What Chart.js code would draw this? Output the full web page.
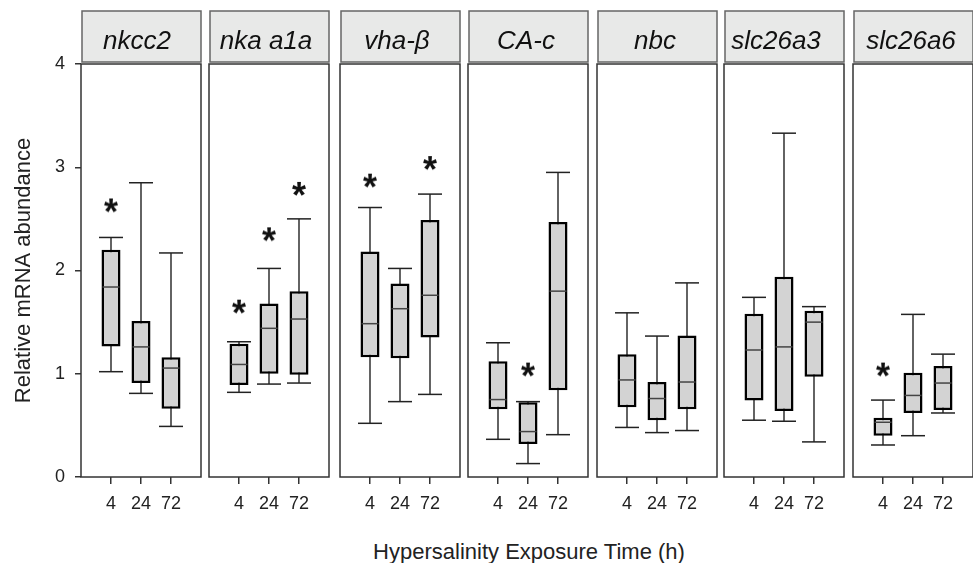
<!DOCTYPE html>
<html lang="en">
<head>
  <meta charset="UTF-8" />
  <title>Relative mRNA abundance after hypersalinity exposure</title>
  <script src="https://cdn.jsdelivr.net/npm/chart.js"></script>
  <style>
    body {
      margin: 0;
      background: #fff;
      font-family: 'Liberation Sans', Arial, sans-serif;
    }
    #wrap {
      position: relative;
      width: 973px;
      height: 563px;
      overflow: hidden;
    }
    #wrap canvas {
      position: absolute;
      top: 0;
    }
    .xtitle {
      position: absolute;
      top: 539px;
      left: 0;
      width: 1058px;
      text-align: center;
      font-size: 22px;
      line-height: 26px;
      color: #222;
    }
  </style>
</head>
<body>
  <div id="wrap">
    <div class="xtitle">Hypersalinity Exposure Time (h)</div>
  </div>

  <script>
    // genes (one panel each) and exposure times (h)
    const genes = ['nkcc2', 'nka a1a', 'vha-\u03b2', 'CA-c', 'nbc', 'slc26a3', 'slc26a6'];
    const times = ['4', '24', '72'];

    // box plot values per gene, in time order 4 / 24 / 72 h
    const whiskerHigh = [
      [2.32, 2.85, 2.17], [1.31, 2.02, 2.50], [2.61, 2.02, 2.74], [1.30, 0.73, 2.95],
      [1.59, 1.365, 1.88], [1.74, 3.33, 1.65], [0.745, 1.575, 1.19]
    ];
    const q3 = [
      [2.20, 1.51, 1.16], [1.29, 1.68, 1.80], [2.185, 1.875, 2.49], [1.12, 0.725, 2.47],
      [1.19, 0.92, 1.37], [1.58, 1.94, 1.61], [0.575, 1.01, 1.075]
    ];
    const median = [
      [1.84, 1.26, 1.055], [1.09, 1.44, 1.53], [1.485, 1.63, 1.76], [0.75, 0.44, 1.80],
      [0.94, 0.76, 0.92], [1.23, 1.26, 1.50], [0.53, 0.79, 0.91]
    ];
    const q1 = [
      [1.265, 0.91, 0.66], [0.89, 1.00, 0.99], [1.16, 1.15, 1.35], [0.655, 0.32, 0.84],
      [0.675, 0.55, 0.655], [0.74, 0.64, 0.97], [0.40, 0.62, 0.65]
    ];
    const whiskerLow = [
      [1.02, 0.81, 0.49], [0.82, 0.90, 0.91], [0.52, 0.73, 0.80], [0.365, 0.13, 0.41],
      [0.48, 0.43, 0.45], [0.55, 0.54, 0.34], [0.31, 0.40, 0.62]
    ];
    // height of the significance asterisk (null = none)
    const stars = [
      [2.63, null, null], [1.65, 2.35, 2.79], [2.87, null, 3.04], [null, 1.04, null],
      [null, null, null], [null, null, null], [1.04, null, null]
    ];

    // panel geometry
    const panelLeft = [81, 209, 340, 468, 597, 724, 853];
    const panelWidth = 120;
    const titleShift = [-4, -3, -3, -2, -2, -8, -2];

    Chart.defaults.font.family = "'Liberation Sans', Arial, sans-serif";
    Chart.defaults.color = '#222';

    // asterisk glyph used as a point style
    function makeStar() {
      const c = document.createElement('canvas');
      c.width = 24; c.height = 24;
      const g = c.getContext('2d');
      g.font = 'bold 36px "Liberation Sans", Arial, sans-serif';
      g.fillStyle = '#111';
      g.textAlign = 'center';
      const m = g.measureText('*');
      const x = 12 - (m.actualBoundingBoxRight - m.actualBoundingBoxLeft) / 2;
      const y = 12 + (m.actualBoundingBoxAscent - m.actualBoundingBoxDescent) / 2;
      g.fillText('*', x, y);
      return c;
    }
    const starImg = makeStar();

    // header strip + panel frame
    const panelDecor = {
      id: 'panelDecor',
      afterDraw(chart, args, opts) {
        const { ctx, chartArea: a } = chart;
        ctx.save();
        ctx.fillStyle = '#e8e9e8';
        ctx.fillRect(a.left + 1, 11, a.width - 1, 51);
        ctx.strokeStyle = '#666';
        ctx.lineWidth = 1.5;
        ctx.strokeRect(a.left + 1, 11, a.width - 1, 51);
        ctx.font = 'italic 26px "Liberation Sans", Arial, sans-serif';
        ctx.fillStyle = '#111';
        ctx.textAlign = 'center';
        ctx.textBaseline = 'alphabetic';
        ctx.fillText(opts.title, a.left + a.width / 2 + opts.shift, 49);
        ctx.strokeStyle = '#333';
        ctx.lineWidth = 1.5;
        ctx.strokeRect(a.left, a.top, a.width, a.height);
        ctx.restore();
      }
    };

    const wrap = document.getElementById('wrap');

    genes.forEach((gene, i) => {
      const first = i === 0;
      const left = first ? 0 : panelLeft[i] - 2;
      const width = panelLeft[i] + panelWidth + 2 - left;
      const canvas = document.createElement('canvas');
      canvas.width = width;
      canvas.height = 563;
      canvas.style.left = left + 'px';
      wrap.appendChild(canvas);

      const pts = arr => arr[i].map((v, k) => ({ x: k + 1, y: v }));
      const ranges = (lo, hi) => lo[i].map((v, k) => ({ x: k + 1, y: [v, hi[i][k]] }));

      new Chart(canvas, {
        type: 'bar',
        data: {
          datasets: [
            {
              label: 'whisker',
              data: ranges(whiskerLow, whiskerHigh),
              backgroundColor: '#222',
              grouped: false,
              maxBarThickness: 1.4,
              borderSkipped: false,
              order: 4
            },
            {
              label: 'box',
              data: ranges(q1, q3),
              backgroundColor: '#d3d3d3',
              borderColor: '#000',
              borderWidth: 2.5,
              borderSkipped: false,
              grouped: false,
              maxBarThickness: 19,
              order: 3
            },
            {
              type: 'scatter',
              label: 'caps',
              data: [...pts(whiskerLow), ...pts(whiskerHigh)],
              pointStyle: 'line',
              pointRadius: 12,
              borderColor: '#222',
              borderWidth: 1.5,
              order: 2
            },
            {
              type: 'scatter',
              label: 'median',
              data: pts(median),
              pointStyle: 'line',
              pointRadius: 8.5,
              borderColor: '#444',
              borderWidth: 1.5,
              order: 1
            },
            {
              type: 'scatter',
              label: 'significant',
              data: pts(stars).filter(p => p.y !== null),
              pointStyle: starImg,
              pointRadius: 12,
              order: 0
            }
          ]
        },
        options: {
          responsive: false,
          animation: false,
          events: [],
          layout: {
            autoPadding: false,
            padding: { top: 64, left: first ? 0 : 2, right: 2, bottom: 0 }
          },
          plugins: {
            legend: { display: false },
            tooltip: { enabled: false },
            panelDecor: { title: gene, shift: titleShift[i] }
          },
          scales: {
            x: {
              type: 'linear',
              min: 0,
              max: 4,
              offset: false,
              afterBuildTicks: s => { s.ticks = times.map((t, k) => ({ value: k + 1 })); },
              afterFit: s => { s.height = 86; s.paddingLeft = 0; s.paddingRight = 0; },
              grid: { offset: false, drawOnChartArea: false, tickLength: 7, color: '#333', lineWidth: 1.5 },
              border: { display: false },
              ticks: {
                autoSkip: false,
                maxRotation: 0,
                padding: 9,
                font: { size: 18 },
                callback: v => times[v - 1]
              }
            },
            y: {
              display: first,
              min: 0,
              max: 4,
              afterFit: s => { if (first) s.width = 81; },
              grid: { drawOnChartArea: false, tickLength: 6, color: '#333', lineWidth: 1.5 },
              border: { display: false },
              ticks: { stepSize: 1, padding: 10, font: { size: 18 } },
              title: {
                display: true,
                text: 'Relative mRNA abundance',
                font: { size: 22 },
                padding: { top: 11, bottom: 0 }
              }
            }
          }
        },
        plugins: [panelDecor]
      });
    });
  </script>
</body>
</html>
